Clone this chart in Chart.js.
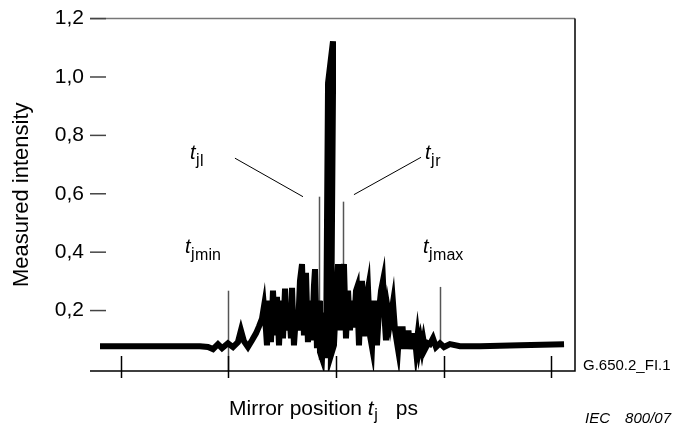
<!DOCTYPE html>
<html>
<head>
<meta charset="utf-8">
<script src="https://cdn.jsdelivr.net/npm/chart.js@4/dist/chart.umd.min.js"></script>
<style>
html,body{margin:0;padding:0;background:#fff;}
#wrap{width:676px;height:430px;position:relative;}
</style>
</head>
<body>
<div id="wrap"><canvas id="c"></canvas></div>
<script>
// Mirror position (arbitrary units, tick every 100) and measured intensity
const mirrorPosition = [-19.5,27.0,73.5,80.9,85.6,90.2,94.0,99.5,104.2,108.8,111.6,114.4,118.1,121.9,125.6,128.4,131.2,133.0,134.9,135.8,137.7,139.5,141.4,143.3,145.1,147.0,148.8,150.7,152.6,154.4,156.3,158.1,159.1,160.9,162.8,164.6,166.5,168.4,170.2,172.1,173.9,175.8,177.7,179.5,180.5,182.3,184.2,185.1,187.0,188.8,190.7,192.6,197.2,197.2,195.3,198.1,200.0,201.9,203.7,205.6,207.4,209.3,211.2,213.0,214.9,216.7,218.6,219.5,221.4,223.2,224.2,226.0,227.9,229.8,231.6,233.5,235.3,237.2,238.1,240.0,241.9,243.7,245.6,246.5,248.4,250.2,253.0,254.9,257.7,259.1,260.5,261.9,263.2,264.6,266.0,267.4,268.8,270.2,271.6,273.0,274.4,275.8,277.2,278.6,280.0,281.4,282.8,285.6,287.4,290.2,293.0,296.7,300.5,306.0,315.3,333.9,371.1,412.1];
const intensity = [0.078,0.078,0.078,0.075,0.068,0.085,0.071,0.088,0.075,0.092,0.132,0.095,0.075,0.098,0.122,0.146,0.173,0.214,0.132,0.081,0.234,0.092,0.268,0.115,0.247,0.081,0.234,0.105,0.275,0.132,0.217,0.105,0.278,0.081,0.183,0.132,0.302,0.359,0.115,0.329,0.092,0.234,0.098,0.285,0.342,0.071,0.234,0.058,0.037,0.193,0.037,0.980,1.122,0.946,0.047,0.081,0.234,0.359,0.132,0.285,0.359,0.105,0.268,0.132,0.234,0.142,0.268,0.278,0.081,0.268,0.302,0.112,0.234,0.275,0.115,0.075,0.234,0.132,0.081,0.200,0.268,0.302,0.149,0.098,0.200,0.159,0.227,0.132,0.068,0.146,0.068,0.146,0.068,0.132,0.068,0.132,0.068,0.122,0.068,0.122,0.068,0.112,0.068,0.098,0.068,0.098,0.068,0.088,0.085,0.105,0.075,0.088,0.075,0.085,0.078,0.078,0.081,0.085];

const yTickValues = [0.2,0.4,0.6,0.8,1.0,1.2];
const xTickValues = [0,100,200,300,400];

// Annotation markers: vertical lines
const markerX = [100, 184.2, 206.5, 297.2];
const markerTop = [0.268, 0.590, 0.573, 0.281];
const markerBottom = [-0.007, 0.031, 0.25, 0.088];
// Leader lines [x1,y1,x2,y2]
const leaderL = [106.0,0.722,169.3,0.590];
const leaderR = [216.7,0.597,279.1,0.725];
// Label anchors
const labelSub1 = ['j','j','j','j'];
const labelSub2 = ['l','r','min','max'];
const labelX = [64.2, 282.8, 59.5, 280.9];
const labelY = [0.719, 0.719, 0.397, 0.397];

const FONT = '"Liberation Sans", Arial, sans-serif';

function pts(){ return mirrorPosition.map((x,i)=>({x:x,y:intensity[i]})); }

function drawT(ctx, x, y, s1, s2){
  ctx.fillStyle='#000';
  ctx.textAlign='left'; ctx.textBaseline='alphabetic';
  ctx.font='italic 20px '+FONT;
  ctx.fillText('t', x, y);
  let cx = x + ctx.measureText('t').width + 0.5;
  ctx.font='16px '+FONT;
  ctx.fillText(s1, cx, y+6);
  cx += ctx.measureText(s1).width + 0.5;
  if(s2){ ctx.fillText(s2, cx, y+7); }
}

const plug = {
  id:'plug',
  beforeDatasetsDraw(chart){
    const ctx=chart.ctx, xs=chart.scales.x, ys=chart.scales.y;
    ctx.save();
    ctx.strokeStyle='#555'; ctx.lineWidth=1.5;
    for(let i=0;i<markerX.length;i++){
      const px=Math.round(xs.getPixelForValue(markerX[i]))+0.5;
      ctx.beginPath();
      ctx.moveTo(px, ys.getPixelForValue(markerTop[i]));
      ctx.lineTo(px, ys.getPixelForValue(markerBottom[i]));
      ctx.stroke();
    }
    ctx.strokeStyle='#000'; ctx.lineWidth=1;
    [leaderL,leaderR].forEach(l=>{
      ctx.beginPath();
      ctx.moveTo(xs.getPixelForValue(l[0]), ys.getPixelForValue(l[1]));
      ctx.lineTo(xs.getPixelForValue(l[2]), ys.getPixelForValue(l[3]));
      ctx.stroke();
    });
    ctx.restore();
  },
  afterDraw(chart){
    const ctx=chart.ctx, a=chart.chartArea, xs=chart.scales.x, ys=chart.scales.y;
    ctx.save();
    ctx.lineWidth=1.5;
    ctx.strokeStyle='#777';
    ctx.beginPath(); ctx.moveTo(a.left, a.top); ctx.lineTo(a.right, a.top); ctx.stroke();
    ctx.strokeStyle='#000';
    ctx.beginPath(); ctx.moveTo(a.right, a.top); ctx.lineTo(a.right, a.bottom); ctx.lineTo(a.left, a.bottom); ctx.stroke();
    ctx.strokeStyle='#444'; ctx.lineWidth=1.5;
    yTickValues.forEach(v=>{
      const py=ys.getPixelForValue(v);
      ctx.beginPath(); ctx.moveTo(a.left, py); ctx.lineTo(a.left+16, py); ctx.stroke();
    });
    ctx.strokeStyle='#000';
    xTickValues.forEach(v=>{
      const px=Math.round(xs.getPixelForValue(v))+0.5;
      ctx.beginPath(); ctx.moveTo(px, a.bottom-15); ctx.lineTo(px, a.bottom+7); ctx.stroke();
    });
    for(let i=0;i<labelX.length;i++){
      drawT(ctx, xs.getPixelForValue(labelX[i]), ys.getPixelForValue(labelY[i]), labelSub1[i], labelSub2[i]);
    }
    ctx.fillStyle='#000';
    ctx.save();
    ctx.translate(22, (a.top+a.bottom)/2);
    ctx.rotate(-Math.PI/2);
    ctx.textAlign='center'; ctx.textBaseline='middle';
    ctx.font='22px '+FONT;
    ctx.fillText('Measured intensity', 0, 0);
    ctx.restore();
    ctx.textAlign='left'; ctx.textBaseline='alphabetic';
    ctx.font='21px '+FONT;
    const t1='Mirror position ';
    ctx.fillText(t1, 229, 415);
    let cx=229+ctx.measureText(t1).width;
    ctx.font='italic 21px '+FONT;
    ctx.fillText('t', cx, 415);
    cx+=ctx.measureText('t').width+0.5;
    ctx.font='16px '+FONT;
    ctx.fillText('j', cx, 420);
    ctx.font='21px '+FONT;
    ctx.textAlign='right';
    ctx.fillText('ps', 418, 415);
    ctx.textAlign='left';
    ctx.font='15px '+FONT;
    ctx.fillText('G.650.2_FI.1', 583, 370);
    ctx.font='italic 15px '+FONT;
    ctx.fillText('IEC', 585, 423);
    ctx.textAlign='right';
    ctx.fillText('800/07', 671, 423);
    ctx.restore();
  }
};

new Chart(document.getElementById('c'), {
  type:'line',
  data:{datasets:[{
    data:pts(),
    borderColor:'#000',
    backgroundColor:'#000',
    borderWidth:6,
    borderJoinStyle:'miter',
    pointRadius:0,
    tension:0,
    fill:false
  }]},
  options:{
    responsive:true,
    maintainAspectRatio:false,
    animation:false,
    events:[],
    layout:{padding:{left:0,right:101,top:15,bottom:0}},
    plugins:{legend:{display:false},tooltip:{enabled:false},title:{display:false}},
    scales:{
      x:{
        type:'linear',
        min:-28.8, max:422.3,
        grid:{display:false, drawTicks:false},
        border:{display:false},
        ticks:{display:false},
        afterBuildTicks(s){ s.ticks = xTickValues.map(v=>({value:v})); },
        afterFit(s){ s.height = 59; }
      },
      y:{
        type:'linear',
        min:-0.007, max:1.2,
        grid:{display:false, drawTicks:false},
        border:{display:false},
        ticks:{
          color:'#000',
          padding:6,
          font:{family:'"Liberation Sans", Arial, sans-serif', size:21},
          callback:(v)=>Number(v).toFixed(1).replace('.',',')
        },
        afterBuildTicks(s){ s.ticks = yTickValues.map(v=>({value:v})); },
        afterFit(s){ s.width = 90; }
      }
    }
  },
  plugins:[plug]
});
</script>
</body>
</html>
